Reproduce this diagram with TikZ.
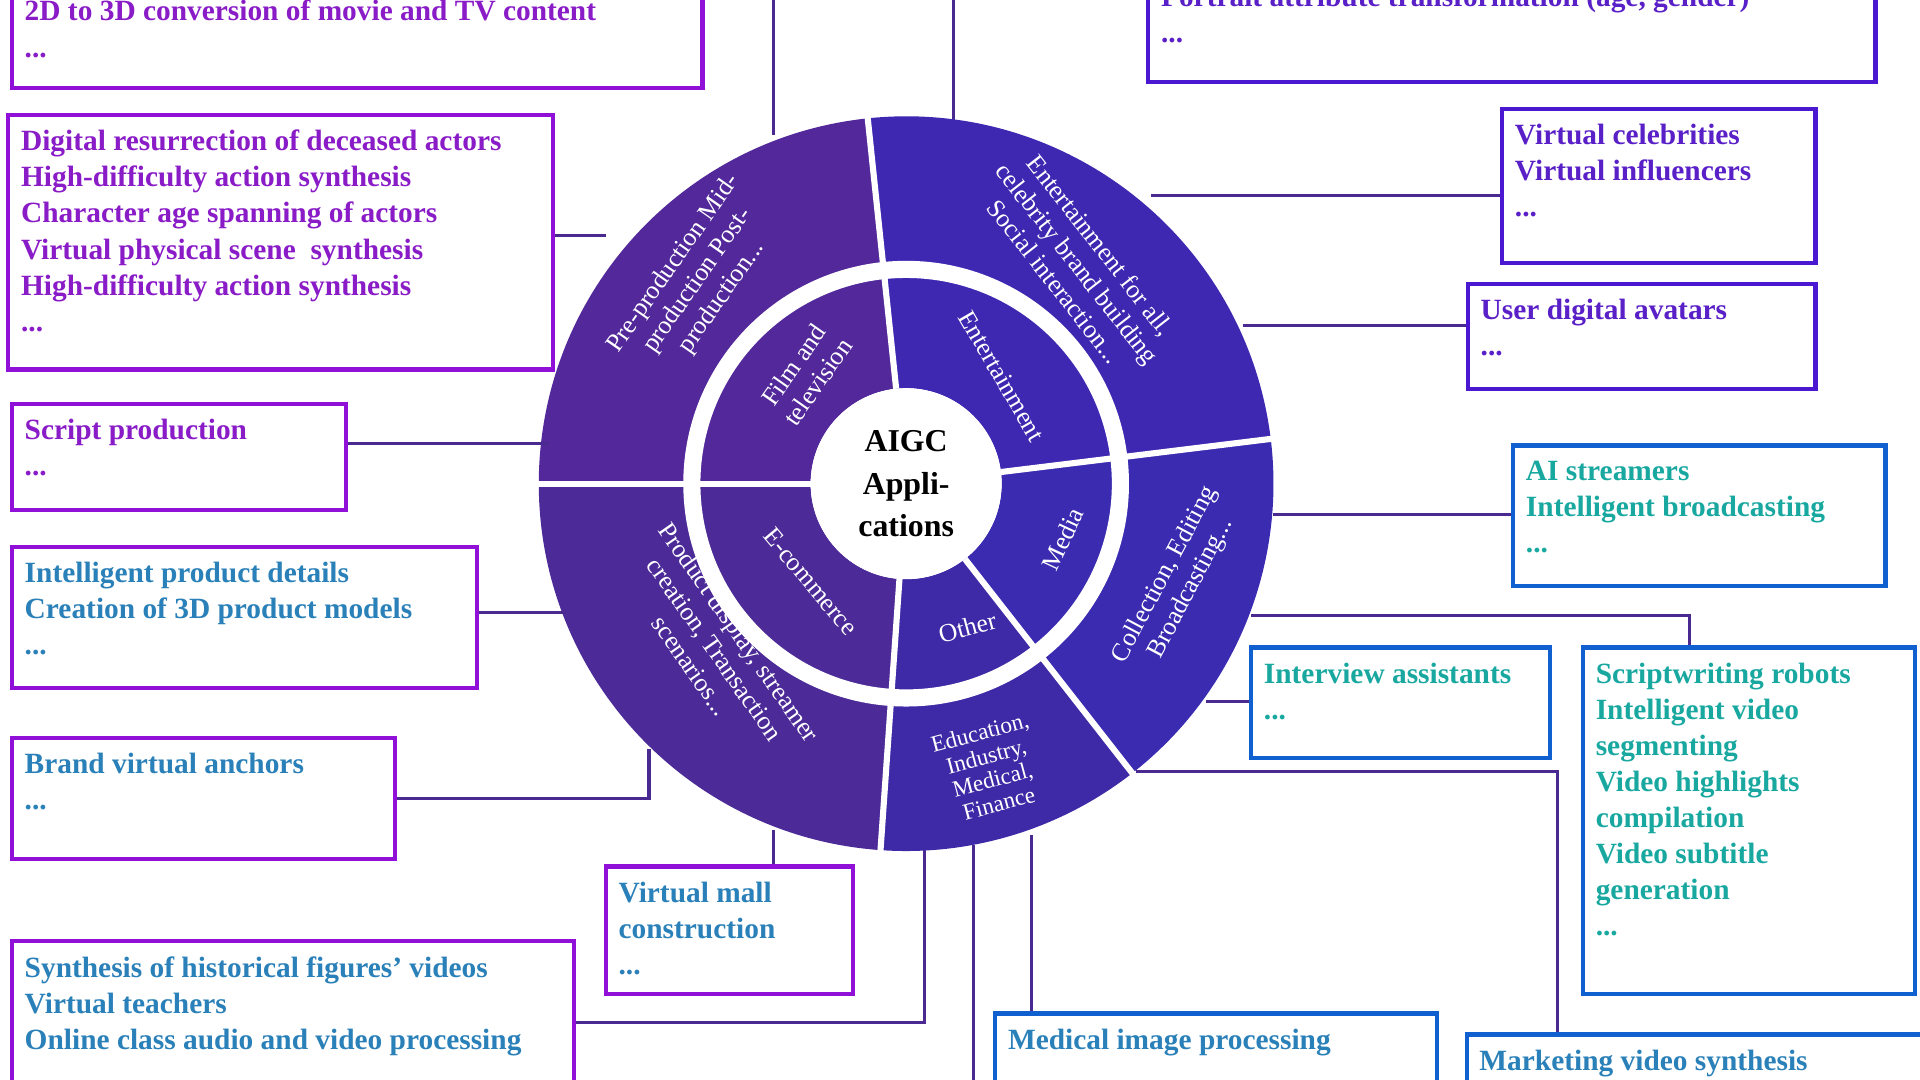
\documentclass[tikz,border=0pt]{standalone}
\usepackage{fontspec}
\setmainfont{Liberation Serif}
\usetikzlibrary{positioning,calc}
\definecolor{purpleB}{HTML}{9010D8}
\definecolor{purpleT}{HTML}{8A1CC8}
\definecolor{indigoB}{HTML}{4A18D0}
\definecolor{indigoT}{HTML}{5A20C8}
\definecolor{blueB}{HTML}{1060D0}
\definecolor{blueT}{HTML}{2A80B8}
\definecolor{tealT}{HTML}{18A8A0}
\definecolor{wire}{HTML}{4A2A90}
\newcommand{\infobox}[8]{% name, x1, y1, x2, y2, border, text colour, text
  \node[box,draw=#6,minimum width=#4-#2,minimum height=#5-#3,anchor=north west] (#1) at (#2,#3) {};
  \node[txt,text=#7,anchor=north west] at ([shift={(12,14)}]#1.north west) {#8};
}

\begin{document}
\begin{tikzpicture}[x=1pt,y=-1pt,% styles for the whole picture
    box/.style={draw,line width=3.5pt,inner sep=0pt,fill=white},
    txt/.style={align=left,font=\fontsize{24}{29.5}\selectfont\bfseries,inner sep=0pt},
    wiring/.style={draw=wire,line width=2.5pt},
    seg/.style={text=white,align=center,font=\fontsize{21}{24}\selectfont,inner sep=0pt}
  ]
  \useasboundingbox (0,0) rectangle (1568,882);
  \clip (0,0) rectangle (1568,882);

  % anchor points on the wheel
  \coordinate (w1) at (632,110);
  \coordinate (w2) at (779,100);
  \coordinate (w3) at (495,192);
  \coordinate (w4) at (448,362);
  \coordinate (w5) at (462,500);
  \coordinate (w6) at (530,612);
  \coordinate (w7) at (632,678);
  \coordinate (w8) at (755,690);
  \coordinate (w8a) at (467,835);
  \coordinate (w9) at (795,690);
  \coordinate (w10) at (842,682);
  \coordinate (w10a) at (842,826);
  \coordinate (w11) at (928,630);
  \coordinate (w11a) at (1272,843);
  \coordinate (w12) at (1022,503);
  \coordinate (w12a) at (1380,527);
  \coordinate (w13) at (985,573);
  \coordinate (w14) at (1040,420);
  \coordinate (w15) at (1015,266);
  \coordinate (w16) at (940,160);
  \coordinate (top1) at (632,0);
  \coordinate (top2) at (779,0);
  \coordinate (bot1) at (795,882);

  % connectors
  \path[wiring]
    (top1) -- (w1)
    (top2) -- (w2)
    (w8a) -| (w8)
    (w9) -- (bot1)
    (w10) -- (w10a)
    (w11a) |- (w11)
    (w12a) |- (w12);

  % wheel
  \begin{scope}[shift={(740,395)},y=1pt]
    \foreach \a/\b/\c in {96/180/52289A,180/266/4C2A98,266/308/3E2AA6,308/367/3A2BB0,7/96/3E28B2}{
      \definecolor{segc}{HTML}{\c}
      \fill[segc] (\a:78) -- (\a:300) arc[start angle=\a,end angle=\b,radius=300]
        -- (\b:78) arc[start angle=\b,end angle=\a,radius=78] -- cycle;
    }
    \fill[white,even odd rule] (0,0) circle (182) (0,0) circle (168);
    \foreach \a in {96,180,266,308,7}
      \draw[white,line width=5pt] (\a:78) -- (\a:302);
    \node[circle,fill=white,minimum size=156,inner sep=0pt,align=center,
      font=\fontsize{26}{35}\selectfont\bfseries] (hub) at (0,0) {AIGC\\Appli-\\cations};
    % outer ring
    \node[seg,rotate=55] (filmO) at (-170,166) {Pre-production Mid-\\production Post-\\production...};
    \node[seg,rotate=-55] (shopO) at (-156,-135) {Product display, streamer\\creation, Transaction\\scenarios...};
    \node[seg,rotate=-52] (funO) at (140,180) {Entertainment for all,\\celebrity brand building\\Social interaction...};
    \node[seg,rotate=62] (mediaO) at (222,-80) {Collection, Editing\\Broadcasting...};
    \node[seg,rotate=15,font=\fontsize{19}{20}\selectfont] (otherO) at (68,-232) {Education,\\Industry,\\Medical,\\Finance};
    % inner ring
    \node[seg,rotate=55] (filmI) at (-82,90) {Film and\\television};
    \node[seg,rotate=-60] (funI) at (78,88) {Entertainment};
    \node[seg,rotate=-50] (shopI) at (-78,-80) {E-commerce};
    \node[seg,rotate=65] (mediaI) at (128,-45) {Media};
    \node[seg,rotate=15] (otherI) at (50,-117) {Other};
  \end{scope}

  % boxes, left side
  \infobox{film1}{8}{-14}{572}{70}{purpleB}{purpleT}{2D to 3D conversion of movie and TV content\\...}
  \infobox{film2}{5}{92}{450}{300}{purpleB}{purpleT}{Digital resurrection of deceased actors\\High-difficulty action synthesis\\Character age spanning of actors\\Virtual physical scene\ \ synthesis\\High-difficulty action synthesis\\...}
  \infobox{film3}{8}{328}{281}{415}{purpleB}{purpleT}{Script production\\...}
  \infobox{shop1}{8}{445}{388}{560}{purpleB}{blueT}{Intelligent product details\\Creation of 3D product models\\...}
  \infobox{shop2}{8}{601}{321}{700}{purpleB}{blueT}{Brand virtual anchors\\...}
  \infobox{shop3}{493}{706}{695}{810}{purpleB}{blueT}{Virtual mall\\construction\\...}
  \infobox{edu1}{8}{767}{467}{920}{purpleB}{blueT}{Synthesis of historical figures' videos\\Virtual teachers\\Online class audio and video processing}
  \infobox{med1}{811}{826}{1172}{920}{blueB}{blueT}{Medical image processing}
  \infobox{mkt1}{1196}{843}{1580}{920}{blueB}{blueT}{Marketing video synthesis}
  % boxes, right side
  \infobox{media1}{1291}{527}{1562}{810}{blueB}{tealT}{Scriptwriting robots\\Intelligent video\\segmenting\\Video highlights\\compilation\\Video subtitle\\generation\\...}
  \infobox{media2}{1020}{527}{1264}{617}{blueB}{tealT}{Interview assistants\\...}
  \infobox{media3}{1234}{362}{1538}{477}{blueB}{tealT}{AI streamers\\Intelligent broadcasting\\...}
  \infobox{fun1}{1197}{230}{1481}{316}{indigoB}{indigoT}{User digital avatars\\...}
  \infobox{fun2}{1225}{87}{1481}{213}{indigoB}{indigoT}{Virtual celebrities\\Virtual influencers\\...}
  \infobox{fun3}{936}{-26}{1530}{65}{indigoB}{indigoT}{Portrait attribute transformation (age, gender)\\...}

  % connectors to the boxes
  \path[wiring]
    (film2.east |- w3) -- (w3)
    (film3.east |- w4) -- (w4)
    (shop1.east |- w5) -- (w5)
    (shop2.east) -| (w6)
    (shop3.north -| w7) -- (w7)
    (media2.west |- w13) -- (w13)
    (media3.west |- w14) -- (w14)
    (fun1.west |- w15) -- (w15)
    (fun2.west |- w16) -- (w16);
\end{tikzpicture}
\end{document}
